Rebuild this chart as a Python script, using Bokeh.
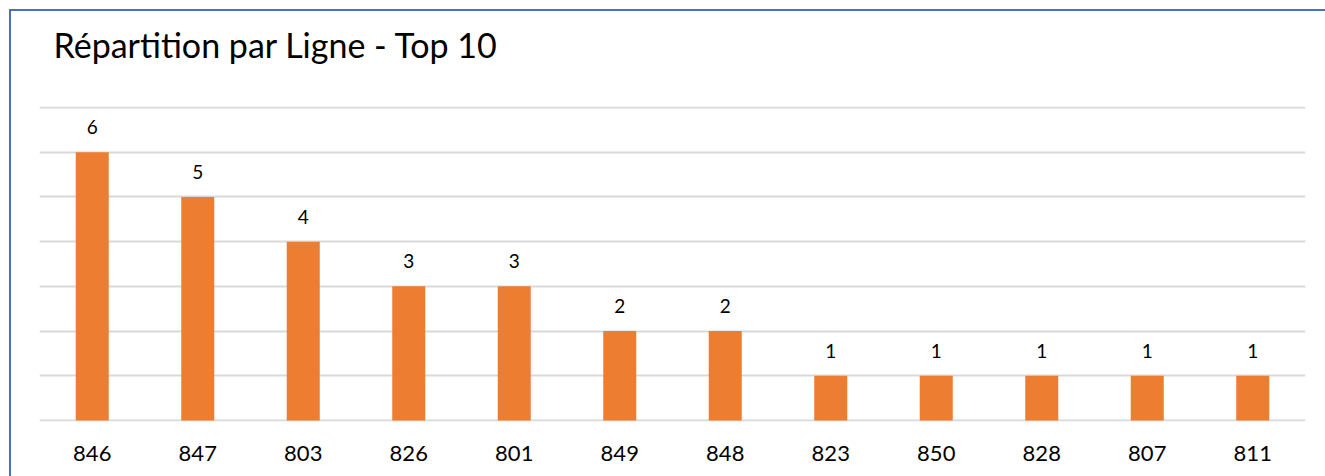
from bokeh.plotting import figure
from bokeh.models import (ColumnDataSource, FactorRange, Range1d, FixedTicker,
                          LabelSet)
from bokeh.core.properties import value
from bokeh.embed import file_html
from bokeh.resources import INLINE

# Top 10 lignes (ex aequo inclus) et nombre d'occurrences
lignes = ["846", "847", "803", "826", "801", "849", "848", "823", "850", "828", "807", "811"]
nombres = [6, 5, 4, 3, 3, 2, 2, 1, 1, 1, 1, 1]
graduations = [0, 1, 2, 3, 4, 5, 6, 7]
titre = "Répartition par Ligne - Top 10"

FONT = "Lato"
TEXT = "#000000"
GRID = "#d9d9d9"
CADRE = "#4472C4"

source = ColumnDataSource(data=dict(ligne=lignes, n=nombres, txt=[str(v) for v in nombres]))

# petite marge autour de 0 et 7 pour que les lignes de grille extrêmes restent visibles
marge = 0.02

p = figure(
    width=1325, height=476,
    x_range=FactorRange(*lignes, range_padding=0),
    y_range=Range1d(graduations[0] - marge, graduations[-1] + marge),
    output_backend="svg", toolbar_location=None,
    min_border_left=39, min_border_right=20,
    min_border_top=106, min_border_bottom=55,
    # ligne vide sous le titre pour le remonter au-dessus de la grille
    title=titre + "\n",
)

p.title.text_font = FONT
p.title.text_font_size = "34px"
p.title.text_font_style = "normal"
p.title.text_color = TEXT
p.title.align = "left"
p.title.vertical_align = "bottom"
p.title.offset = 14
p.title.standoff = 2

p.outline_line_color = None
p.background_fill_color = "white"
# marges transparentes : le fond de l'élément (avec le cadre bleu) reste visible
p.border_fill_color = None

p.vbar(x="ligne", top="n", width=0.313, source=source,
       fill_color="#ED7D31", line_color=None)

labels = LabelSet(x="ligne", y="n", text="txt", source=source,
                  text_align="center", text_baseline="alphabetic",
                  y_offset=18, text_font=value(FONT), text_font_size="19px",
                  text_color=TEXT)
p.add_layout(labels)

p.yaxis.visible = False
p.yaxis.ticker = FixedTicker(ticks=graduations)
p.ygrid.ticker = FixedTicker(ticks=graduations)
p.ygrid.grid_line_color = GRID
p.ygrid.grid_line_width = 2
p.xgrid.grid_line_color = None

p.xaxis.axis_line_color = None
p.xaxis.major_tick_line_color = None
p.xaxis.minor_tick_line_color = None
p.xaxis.major_tick_out = 0
p.xaxis.major_tick_in = 0
p.xaxis.major_label_standoff = 24
p.xaxis.major_label_text_font = FONT
p.xaxis.major_label_text_font_size = "22px"
p.xaxis.major_label_text_color = TEXT

# cadre bleu (bords gauche et haut) dessiné en fond de l'élément
p.styles = {
    "background": (
        f"linear-gradient({CADRE}, {CADRE}) 9px 9px / 2px 100% no-repeat, "
        f"linear-gradient({CADRE}, {CADRE}) 9px 9px / 100% 2px no-repeat, "
        "#ffffff"
    ),
}

open("out.html", "w").write(file_html(p, INLINE))
